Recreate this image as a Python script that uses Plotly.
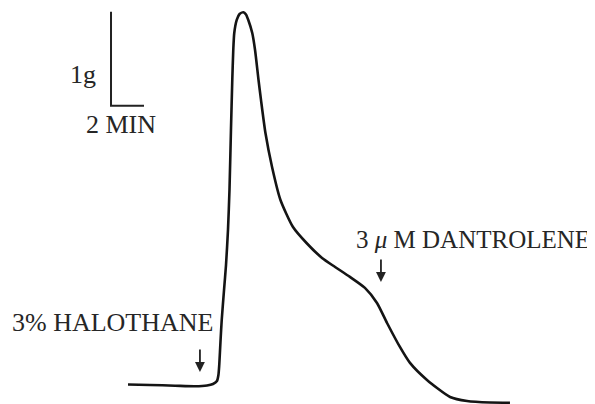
import plotly.graph_objects as go

# Tension trace: time (min) vs tension (g)
time_min = [0.00, 1.33, 2.85, 4.06, 4.79, 5.15, 5.39, 5.48, 5.53, 5.61, 5.68, 5.82, 5.94,
            6.06, 6.15, 6.24, 6.32, 6.38, 6.44, 6.59, 6.76, 6.99, 7.15, 7.29, 7.53, 7.70,
            7.91, 8.06, 8.33, 8.73, 9.24, 10.00, 10.82, 11.76, 12.55, 13.45, 14.36, 15.09,
            15.70, 16.48, 17.09, 18.12, 19.52, 20.55, 21.94, 23.15]
tension_g = [0.016, 0.011, 0.003, -0.003, 0.005, 0.021, 0.053, 0.117, 0.223, 0.489, 0.702,
             1.021, 1.287, 1.660, 2.085, 2.723, 3.255, 3.574, 3.755, 3.894, 3.957, 3.976,
             3.952, 3.894, 3.755, 3.574, 3.255, 3.043, 2.691, 2.330, 1.979, 1.691, 1.521,
             1.362, 1.266, 1.160, 1.043, 0.883, 0.670, 0.415, 0.245, 0.064, -0.117, -0.160,
             -0.176, -0.178]

# Scale bar
scale_t0 = -1.03
scale_f0 = 2.98
scale_minutes = 2
scale_grams = 1
scale_labels = ["1g", "2 MIN"]

# Drug additions
drug_labels = ["3% HALOTHANE", "3 <i>μ</i> M DANTROLENE"]
drug_times = [4.36, 15.33]
drug_arrow_top = [0.404, 1.362]
drug_arrow_tip = [0.149, 1.106]
drug_label_t = [-0.91, 28.12]
drug_label_f = [0.670, 1.553]
drug_label_anchor = ["center", "right"]
drug_label_size = [26, 25]

LINE = "#141414"
TXT = "#262626"
FONT = "Liberation Serif, Times New Roman, serif"

fig = go.Figure()
fig.add_trace(go.Scatter(x=time_min, y=tension_g, mode="lines",
                         line=dict(color=LINE, width=2.6, shape="spline", smoothing=0.6),
                         hoverinfo="skip"))
fig.add_trace(go.Scatter(x=[scale_t0, scale_t0, scale_t0 + scale_minutes],
                         y=[scale_f0 + scale_grams, scale_f0, scale_f0], mode="lines",
                         line=dict(color="#222222", width=2), hoverinfo="skip"))

annotations = [
    dict(x=scale_t0 - 1.70, y=scale_f0 + 0.33 * scale_grams, text=scale_labels[0],
         xanchor="center", yanchor="middle", font=dict(family=FONT, size=26, color=TXT)),
    dict(x=scale_t0 + 0.58, y=scale_f0 - 0.2, text=scale_labels[1],
         xanchor="center", yanchor="middle", font=dict(family=FONT, size=26, color=TXT)),
]
for i in range(2):
    annotations.append(dict(x=drug_label_t[i], y=drug_label_f[i], text=drug_labels[i],
                            xanchor=drug_label_anchor[i], yanchor="middle",
                            font=dict(family=FONT, size=drug_label_size[i], color=TXT)))
    annotations.append(dict(x=drug_times[i], y=drug_arrow_tip[i], ax=drug_times[i],
                            ay=drug_arrow_top[i], axref="x", ayref="y", text="",
                            showarrow=True, arrowhead=2, arrowsize=1.1, arrowwidth=1.8,
                            arrowcolor="#222222"))
for a in annotations:
    a.setdefault("showarrow", False)
    a["xref"] = "x"
    a["yref"] = "y"

fig.update_layout(
    width=595, height=404,
    margin=dict(l=0, r=0, t=0, b=0),
    paper_bgcolor="white", plot_bgcolor="white",
    showlegend=False,
    annotations=annotations,
    # ranges offset to account for the page's 8px body margin
    xaxis=dict(range=[-7.273, 28.788], visible=False, fixedrange=True),
    yaxis=dict(range=[-0.277, 4.021], visible=False, fixedrange=True),
)
fig.write_html("out.html")
